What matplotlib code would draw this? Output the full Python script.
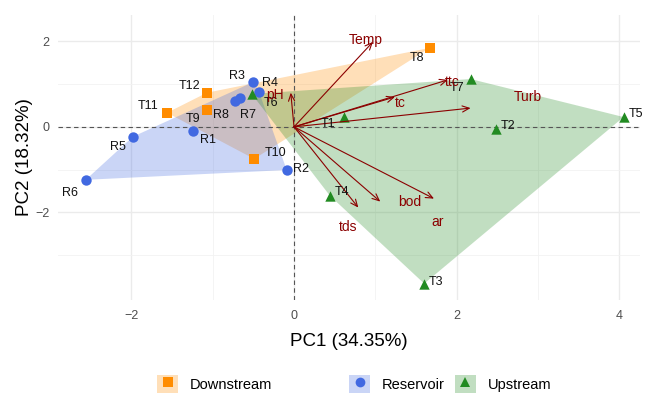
import numpy as np
import matplotlib
matplotlib.use("Agg")
import matplotlib.pyplot as plt
from matplotlib.patches import Polygon, Patch
from matplotlib.lines import Line2D

plt.rcParams['font.family'] = ['Liberation Sans', 'DejaVu Sans']

# ---------------- data ----------------
groups = ["Downstream", "Reservoir", "Upstream"]

down_names = ["T8", "T9", "T10", "T11", "T12"]
down_pc1 = [1.67, -1.07, -0.49, -1.56, -1.07]
down_pc2 = [1.85, 0.40, -0.75, 0.33, 0.80]
down_lab_x = [1.51, -1.24, -0.23, -1.79, -1.28]
down_lab_y = [1.61, 0.19, -0.61, 0.49, 0.96]

res_names = ["R1", "R2", "R3", "R4", "R5", "R6", "R7", "R8"]
res_pc1 = [-1.24, -0.09, -0.50, -0.43, -1.98, -2.56, -0.66, -0.72]
res_pc2 = [-0.09, -1.01, 1.05, 0.82, -0.23, -1.24, 0.68, 0.61]
res_lab_x = [-1.06, 0.09, -0.70, -0.29, -2.17, -2.75, -0.56, -0.90]
res_lab_y = [-0.30, -0.98, 1.19, 1.03, -0.47, -1.54, 0.28, 0.28]

up_names = ["T1", "T2", "T3", "T4", "T5", "T6", "T7"]
up_pc1 = [0.61, 2.48, 1.60, 0.44, 4.05, -0.52, 2.17]
up_pc2 = [0.23, -0.05, -3.67, -1.61, 0.23, 0.77, 1.12]
up_lab_x = [0.42, 2.63, 1.75, 0.59, 4.20, -0.28, 2.00]
up_lab_y = [0.07, 0.02, -3.63, -1.52, 0.30, 0.56, 0.91]

var_names = ["Temp", "pH", "tc", "ttc", "Turb", "tds", "bod", "ar"]
var_pc1 = [0.97, -0.04, 1.24, 1.89, 2.17, 0.79, 1.06, 1.72]
var_pc2 = [1.99, 0.80, 0.70, 1.10, 0.44, -1.89, -1.75, -1.68]
var_lab_x = [0.88, -0.23, 1.31, 1.94, 2.87, 0.66, 1.42, 1.77]
var_lab_y = [2.04, 0.75, 0.56, 1.05, 0.70, -2.34, -1.75, -2.22]

x_label = "PC1 (34.35%)"
y_label = "PC2 (18.32%)"
x_ticks = [-2, 0, 2, 4]
y_ticks = [-2, 0, 2]

colors = {"Downstream": "#FF8C00", "Reservoir": "#4169E1", "Upstream": "#228B22"}
markers = {"Downstream": "s", "Reservoir": "o", "Upstream": "^"}
data = {
    "Downstream": (down_pc1, down_pc2, down_names, down_lab_x, down_lab_y),
    "Reservoir": (res_pc1, res_pc2, res_names, res_lab_x, res_lab_y),
    "Upstream": (up_pc1, up_pc2, up_names, up_lab_x, up_lab_y),
}


def convex_hull(pts):
    pts = sorted(map(tuple, pts))
    def cross(o, a, b):
        return (a[0]-o[0])*(b[1]-o[1]) - (a[1]-o[1])*(b[0]-o[0])
    lower, upper = [], []
    for p in pts:
        while len(lower) >= 2 and cross(lower[-2], lower[-1], p) <= 0:
            lower.pop()
        lower.append(p)
    for p in reversed(pts):
        while len(upper) >= 2 and cross(upper[-2], upper[-1], p) <= 0:
            upper.pop()
        upper.append(p)
    return np.array(lower[:-1] + upper[:-1])


# ---------------- figure ----------------
fig = plt.figure(figsize=(6.45, 3.94), dpi=100)
ax = fig.add_axes([0.09, 0.239, 0.902, 0.723])

# grid (theme_minimal style)
ax.set_xticks(x_ticks)
ax.set_yticks(y_ticks)
ax.set_xticks([-3, -1, 1, 3], minor=True)
ax.set_yticks([-3, -1, 1], minor=True)
ax.set_xlim(-2.90, 4.25)
ax.set_ylim(-4.05, 2.62)
ax.grid(which="major", color="#EBEBEB", lw=1.0, zorder=0)
ax.grid(which="minor", color="#F2F2F2", lw=0.6, zorder=0)
ax.set_axisbelow(True)
for s in ax.spines.values():
    s.set_visible(False)
ax.tick_params(which="both", length=0)
ax.tick_params(axis="both", labelsize=9, labelcolor="#4D4D4D")
ax.tick_params(axis="x", pad=7)
ax.tick_params(axis="y", pad=6)

# hulls
for g in groups:
    x, y = data[g][0], data[g][1]
    hull = convex_hull(np.column_stack([x, y]))
    ax.add_patch(Polygon(hull, closed=True, facecolor=colors[g], alpha=0.28,
                         edgecolor="none", zorder=1))

# reference lines
ax.axhline(0, color="#555555", lw=0.8, ls=(0, (4, 3)), zorder=2)
ax.axvline(0, color="#555555", lw=0.8, ls=(0, (4, 3)), zorder=2)

# points and labels
for g in groups:
    x, y, names, lx, ly = data[g]
    ax.scatter(x, y, s=56, marker=markers[g], color=colors[g], zorder=4,
               linewidths=0)
    for n, tx, ty in zip(names, lx, ly):
        ax.text(tx, ty, n, fontsize=9, color="#111111", ha="center",
                va="center", zorder=6)

# loading arrows
for n, vx, vy, tx, ty in zip(var_names, var_pc1, var_pc2, var_lab_x, var_lab_y):
    ax.annotate("", xy=(vx, vy), xytext=(0, 0),
                arrowprops=dict(arrowstyle="->,head_length=0.5,head_width=0.22",
                                color="#8B0000", lw=0.8, shrinkA=0, shrinkB=0),
                zorder=5)
    ax.text(tx, ty, n, fontsize=10, color="#8B0000", ha="center",
            va="center", zorder=6)

ax.set_xlabel(x_label, fontsize=13.5, color="black", labelpad=8)
ax.set_ylabel(y_label, fontsize=13.5, color="black", labelpad=2)

# legend
def handle(g):
    return (Patch(facecolor=colors[g], alpha=0.28, edgecolor="none"),
            Line2D([], [], marker=markers[g], color=colors[g], ls="none",
                   markersize=7, markeredgewidth=0))

common = dict(frameon=False, fontsize=10.5, handlelength=1.45,
              handleheight=1.45, handletextpad=0.8, borderpad=0,
              borderaxespad=0, loc="center left")
fig.legend([handle("Downstream")], ["Downstream"],
           bbox_to_anchor=(157/645, 1-384/394), **common)
fig.legend([handle("Reservoir"), handle("Upstream")], ["Reservoir", "Upstream"],
           bbox_to_anchor=(349/645, 1-384/394), ncol=2, columnspacing=0.7,
           **common)

fig.savefig("out.png", dpi=100)
